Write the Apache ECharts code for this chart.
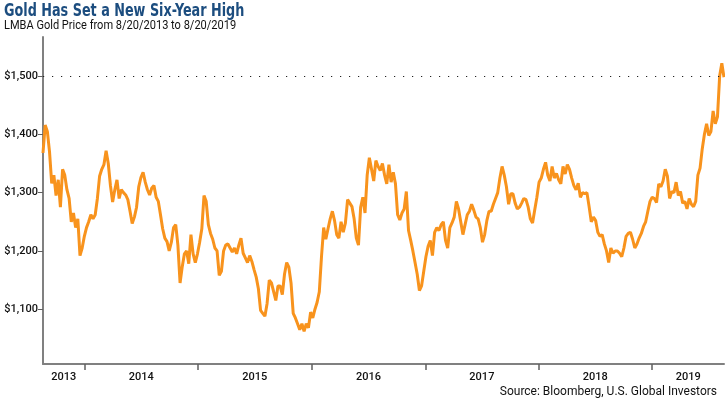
<!DOCTYPE html>
<html>
<head>
<meta charset="utf-8">
<script src="https://cdn.jsdelivr.net/npm/echarts@6/dist/echarts.min.js"></script>
<style>
  html, body { margin: 0; padding: 0; background: #fff; }
  #chart { width: 725px; height: 404px; }
</style>
</head>
<body>
<div id="chart"></div>
<script>
// weekly LBMA gold price, first point 8/20/2013, one point every 7 days
const startDate = '2013-08-20'
const prices = [
  1368, 1416, 1405, 1370, 1316, 1330, 1295, 1322, 1275, 1340,
  1330, 1305, 1290, 1250, 1265, 1240, 1255, 1192, 1205, 1225,
  1240, 1250, 1262, 1255, 1262, 1290, 1328, 1340, 1348, 1372,
  1350, 1312, 1284, 1305, 1322, 1290, 1305, 1300, 1296, 1288,
  1268, 1247, 1258, 1275, 1310, 1326, 1335, 1318, 1305, 1296,
  1308, 1312, 1292, 1285, 1262, 1238, 1222, 1216, 1200, 1215,
  1240, 1245, 1210, 1145, 1173, 1195, 1200, 1178, 1228, 1195,
  1180, 1195, 1215, 1238, 1295, 1285, 1245, 1230, 1220, 1205,
  1200, 1158, 1165, 1200, 1210, 1212, 1205, 1198, 1205, 1195,
  1210, 1222, 1196, 1188, 1180, 1192, 1182, 1168, 1155, 1135,
  1098, 1093, 1088, 1110, 1150, 1145, 1130, 1115, 1140, 1140,
  1125, 1160, 1180, 1172, 1145, 1093, 1085, 1075, 1065, 1075,
  1062, 1075, 1068, 1095, 1085, 1100, 1112, 1130, 1190, 1240,
  1220, 1238, 1255, 1268, 1252, 1228, 1222, 1250, 1232, 1248,
  1288, 1282, 1276, 1255, 1222, 1210, 1275, 1292, 1265, 1330,
  1360, 1340, 1320, 1355, 1345, 1338, 1350, 1330, 1315, 1348,
  1318, 1335, 1315, 1262, 1253, 1265, 1272, 1302, 1235, 1218,
  1200, 1180, 1160, 1132, 1140, 1165, 1190, 1208, 1218, 1192,
  1232, 1240, 1235, 1245, 1250, 1218, 1205, 1240, 1248, 1258,
  1285, 1272, 1250, 1228, 1245, 1262, 1268, 1280, 1270, 1258,
  1255, 1240, 1215, 1228, 1252, 1268, 1268, 1280, 1290, 1300,
  1325, 1345, 1330, 1310, 1280, 1298, 1298, 1282, 1272, 1275,
  1282, 1290, 1288, 1275, 1255, 1248, 1270, 1292, 1318, 1325,
  1340, 1352, 1330, 1320, 1345, 1325, 1333, 1322, 1315, 1345,
  1332, 1348, 1340, 1325, 1312, 1305, 1316, 1292, 1300, 1298,
  1300, 1276, 1250, 1258, 1252, 1232, 1225, 1228, 1212, 1200,
  1180, 1205, 1196, 1200, 1200, 1196, 1190, 1205, 1225, 1230,
  1232, 1220, 1205, 1212, 1222, 1230, 1242, 1250, 1268, 1285,
  1292, 1290, 1283, 1315, 1310, 1320, 1340, 1328, 1290, 1302,
  1300, 1318, 1295, 1302, 1282, 1285, 1272, 1290, 1280, 1276,
  1285, 1330, 1342, 1375, 1400, 1418, 1398, 1405, 1440, 1418,
  1430, 1500, 1522, 1498
]

// days counted from startDate
const yearStarts = [134, 499, 864, 1230, 1595, 1960]
const yearLabels = ['2013', '2014', '2015', '2016', '2017', '2018', '2019']
const yearLabelPos = [67, 316, 681, 1047, 1412, 1777, 2076]
const priceTicks = [1100, 1200, 1300, 1400, 1500]
const highLevel = 1500

const chart = echarts.init(document.getElementById('chart'))
const font = 'Roboto, sans-serif'

chart.setOption({
  animation: false,
  // title fonts in the original are condensed, so squeeze them a bit
  graphic: [
    {
      type: 'text', x: 4, y: 2, scaleX: 0.79,
      style: {
        text: 'Gold Has Set a New Six-Year High',
        font: 'bold 18px "DejaVu Sans Condensed", sans-serif',
        fill: '#1c4d7f'
      }
    },
    {
      type: 'text', x: 4, y: 20, scaleX: 0.92,
      style: {
        text: 'LMBA Gold Price from 8/20/2013 to 8/20/2019',
        font: '12px Roboto, sans-serif',
        fill: '#111'
      }
    }
  ],
  title: {
    text: 'Source: Bloomberg, U.S. Global Investors',
    right: 3, top: 381,
    textStyle: { fontFamily: font, fontWeight: 'normal', fontSize: 12, color: '#111' }
  },
  grid: { left: 43, right: 1, top: 37, bottom: 40 },
  xAxis: {
    type: 'value',
    min: 0,
    max: (prices.length - 1) * 7,
    axisLine: { lineStyle: { color: '#808080', width: 2 } },
    axisTick: { show: true, customValues: yearStarts, length: 6, lineStyle: { color: '#606060', width: 1.5 } },
    axisLabel: {
      customValues: yearLabelPos,
      formatter: v => yearLabels[yearLabelPos.indexOf(v)],
      color: '#111', fontFamily: font, fontSize: 11, fontWeight: 500, margin: 8
    },
    splitLine: { show: false }
  },
  yAxis: {
    type: 'value',
    min: 1006,
    max: 1567,
    axisLine: { show: true, lineStyle: { color: '#808080', width: 2 } },
    axisTick: { show: true, customValues: priceTicks, length: 5, lineStyle: { color: '#606060', width: 1 } },
    axisLabel: {
      customValues: priceTicks,
      formatter: v => '$' + v.toLocaleString('en-US'),
      color: '#111', fontFamily: font, fontSize: 11, fontWeight: 500, margin: 5
    },
    splitLine: { show: false }
  },
  series: [{
    type: 'line',
    data: prices.map((p, i) => [i * 7, p]),
    showSymbol: false,
    lineStyle: { color: '#f8931d', width: 3 },
    markLine: {
      silent: true,
      symbol: 'none',
      label: { show: false },
      lineStyle: { color: '#222', width: 1.2, type: [1.2, 7.8] },
      data: [{ yAxis: highLevel }]
    },
    z: 3
  }]
})
</script>
</body>
</html>
